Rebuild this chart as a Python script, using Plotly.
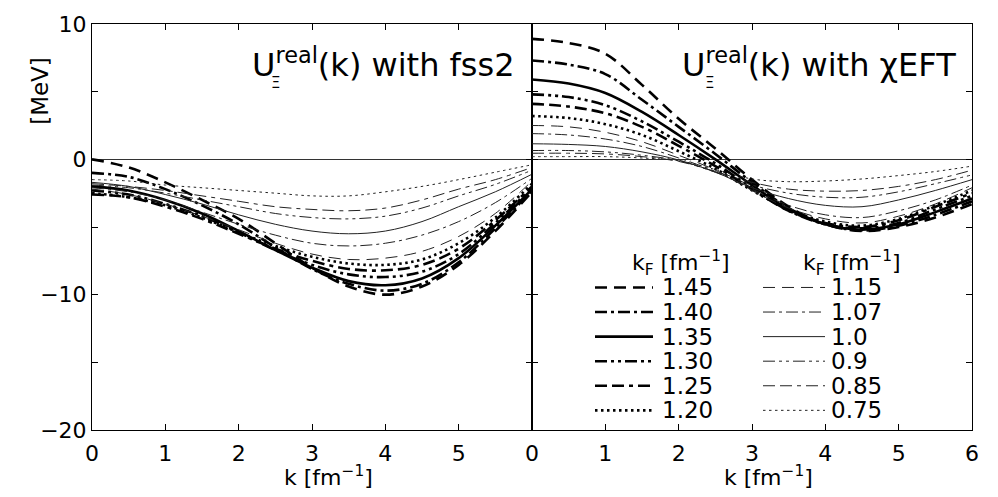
import plotly.graph_objects as go

# ---------------- data ----------------
k = [0.0, 0.5, 1.0, 1.5, 2.0, 2.5, 3.0, 3.5, 4.0, 4.5, 5.0, 5.5, 6.0]
kF_labels = ["1.45", "1.40", "1.35", "1.30", "1.25", "1.20",
             "1.15", "1.07", "1.0", "0.9", "0.85", "0.75"]

U_fss2 = {
    "1.45": [0.0, -0.6, -1.7, -3.0, -4.4, -6.2, -8.0, -9.4, -10.0, -9.4, -7.8, -5.3, -2.4],
    "1.40": [-1.0, -1.3, -2.2, -3.4, -4.8, -6.5, -8.1, -9.2, -9.7, -9.2, -7.6, -5.1, -2.3],
    "1.35": [-2.0, -2.3, -3.0, -4.0, -5.3, -6.7, -8.0, -9.0, -9.3, -8.8, -7.3, -4.9, -2.2],
    "1.30": [-2.3, -2.6, -3.3, -4.2, -5.4, -6.7, -7.8, -8.5, -8.7, -8.3, -7.0, -4.7, -2.1],
    "1.25": [-2.6, -2.8, -3.5, -4.4, -5.5, -6.6, -7.5, -8.1, -8.2, -7.8, -6.6, -4.5, -2.0],
    "1.20": [-2.5, -2.8, -3.4, -4.3, -5.4, -6.4, -7.2, -7.7, -7.8, -7.4, -6.2, -4.3, -1.8],
    "1.15": [-2.2, -2.6, -3.3, -4.2, -5.2, -6.2, -7.0, -7.4, -7.3, -6.8, -5.7, -4.0, -1.6],
    "1.07": [-2.1, -2.4, -3.0, -3.9, -4.8, -5.6, -6.2, -6.4, -6.2, -5.6, -4.6, -3.2, -1.4],
    "1.0":  [-1.7, -2.0, -2.6, -3.3, -4.1, -4.8, -5.3, -5.5, -5.3, -4.6, -3.5, -2.4, -1.1],
    "0.9":  [-1.9, -2.1, -2.5, -3.0, -3.5, -4.0, -4.3, -4.4, -4.2, -3.6, -2.7, -1.85, -0.8],
    "0.85": [-1.8, -2.0, -2.3, -2.7, -3.1, -3.5, -3.7, -3.8, -3.6, -3.0, -2.2, -1.5, -0.6],
    "0.75": [-1.5, -1.6, -1.9, -2.1, -2.3, -2.5, -2.7, -2.7, -2.4, -2.0, -1.5, -0.95, -0.4],
}

U_chiEFT = {
    "1.45": [8.9, 8.6, 7.8, 5.5, 3.0, 0.8, -1.5, -3.5, -4.8, -5.3, -5.0, -4.3, -3.3],
    "1.40": [7.3, 7.0, 6.3, 4.4, 2.4, 0.4, -1.7, -3.6, -4.8, -5.25, -4.9, -4.1, -3.1],
    "1.35": [5.9, 5.6, 4.9, 3.5, 1.8, 0.0, -1.9, -3.7, -4.8, -5.2, -4.8, -3.9, -2.9],
    "1.30": [4.8, 4.6, 4.0, 2.8, 1.3, -0.3, -2.1, -3.8, -4.8, -5.1, -4.7, -3.7, -2.7],
    "1.25": [4.1, 3.9, 3.4, 2.4, 1.0, -0.5, -2.2, -3.8, -4.7, -5.0, -4.5, -3.5, -2.5],
    "1.20": [3.2, 3.05, 2.6, 1.8, 0.6, -0.7, -2.3, -3.7, -4.6, -4.9, -4.4, -3.4, -2.3],
    "1.15": [2.5, 2.4, 2.0, 1.3, 0.3, -0.8, -2.3, -3.6, -4.4, -4.7, -4.2, -3.3, -2.1],
    "1.07": [1.9, 1.8, 1.5, 0.95, 0.1, -0.9, -2.2, -3.4, -4.1, -4.3, -3.8, -3.0, -1.9],
    "1.0":  [1.15, 1.1, 0.95, 0.55, -0.05, -0.95, -2.1, -2.9, -3.4, -3.5, -3.0, -2.3, -1.5],
    "0.9":  [0.65, 0.65, 0.55, 0.3, -0.1, -0.95, -1.9, -2.5, -2.8, -2.8, -2.4, -1.8, -1.15],
    "0.85": [0.45, 0.45, 0.4, 0.2, -0.15, -0.9, -1.7, -2.2, -2.35, -2.3, -2.0, -1.5, -0.8],
    "0.75": [0.2, 0.2, 0.2, 0.1, -0.1, -0.75, -1.45, -1.65, -1.6, -1.45, -1.2, -0.9, -0.5],
}

x_ticks = [0, 1, 2, 3, 4, 5, 6]
x_ticktext_left = ["0", "1", "2", "3", "4", "5", ""]
x_ticktext_right = ["0", "1", "2", "3", "4", "5", "6"]
y_ticks = [-20, -15, -10, -5, 0, 5, 10]
y_ticktext = ["\u221220", "", "\u221210", "", "0", "", "10"]

# ---------------- styles ----------------
dash_patterns = ["12px,7px", "12px,4px,3px,4px", "solid",
                 "12px,4px,3px,4px,3px,4px", "12px,5px,12px,5px,4px,5px", "2.5px,3.5px"]
styles = {}
for i, lab in enumerate(kF_labels):
    thick = i < 6
    styles[lab] = dict(dash=dash_patterns[i % 6],
                       width=2.6 if thick else 1.0,
                       color="black" if thick else "#222222")

FONT = "DejaVu Sans"
W, H = 998, 497
ML, MR, MT, MB = 92, 26, 17, 67
PW, PH = W - ML - MR, H - MT - MB


def px(xp):
    return (xp - ML) / PW


def py(yp):
    return (H - MB - yp) / PH


fig = go.Figure()
for lab in kF_labels:
    st = styles[lab]
    fig.add_trace(go.Scatter(x=k, y=U_fss2[lab], mode="lines", line_shape="spline",
                             line=dict(color=st["color"], width=st["width"], dash=st["dash"]),
                             xaxis="x", yaxis="y", showlegend=False, name=lab))
    fig.add_trace(go.Scatter(x=k, y=U_chiEFT[lab], mode="lines", line_shape="spline",
                             line=dict(color=st["color"], width=st["width"], dash=st["dash"]),
                             xaxis="x2", yaxis="y2", showlegend=False, name=lab))

axis_common = dict(showline=True, linecolor="black", linewidth=1, mirror="ticks",
                   ticks="inside", ticklen=6, tickcolor="black", showgrid=False,
                   tickfont=dict(family=FONT, size=22, color="black"))

fig.update_layout(
    width=W, height=H, margin=dict(l=ML, r=MR, t=MT, b=MB),
    paper_bgcolor="white", plot_bgcolor="white",
    xaxis=dict(domain=[0, 0.5], range=[0, 6], tickvals=x_ticks, ticktext=x_ticktext_left,
               zeroline=False, anchor="y", ticklabelstandoff=4, **axis_common),
    xaxis2=dict(domain=[0.5, 1], range=[0, 6], tickvals=x_ticks, ticktext=x_ticktext_right,
                zeroline=False, anchor="y2", ticklabelstandoff=4, **axis_common),
    yaxis=dict(range=[-20, 10], tickvals=y_ticks, ticktext=y_ticktext, anchor="x",
               zeroline=True, zerolinecolor="#333333", zerolinewidth=1, **axis_common),
    yaxis2=dict(range=[-20, 10], tickvals=y_ticks, ticktext=y_ticktext, anchor="x2",
                showticklabels=False,
                zeroline=True, zerolinecolor="#333333", zerolinewidth=1, **axis_common),
)

ann = []
# panel titles
ann.append(dict(text="U<sup>real</sup>(k) with fss2", x=px(517), y=py(57), xref="paper", yref="paper",
                xanchor="right", yanchor="middle", showarrow=False,
                font=dict(family=FONT, size=32, color="black")))
ann.append(dict(text="U<sup>real</sup>(k) with \u03c7EFT", x=px(958), y=py(57), xref="paper", yref="paper",
                xanchor="right", yanchor="middle", showarrow=False,
                font=dict(family=FONT, size=32, color="black")))
ann.append(dict(text="\u039e", x=px(275), y=py(77), xref="paper", yref="paper",
                xanchor="center", yanchor="middle", showarrow=False,
                font=dict(family=FONT, size=15, color="black")))
ann.append(dict(text="\u039e", x=px(709), y=py(77), xref="paper", yref="paper",
                xanchor="center", yanchor="middle", showarrow=False,
                font=dict(family=FONT, size=15, color="black")))
# axis titles
for xc in (328, 768):
    ann.append(dict(text="k [fm<sup>\u22121</sup>]", x=px(xc), y=py(477), xref="paper", yref="paper",
                    xanchor="center", yanchor="middle", showarrow=False,
                    font=dict(family=FONT, size=22, color="black")))
ann.append(dict(text="[MeV]", x=px(40), y=py(85), xref="paper", yref="paper", textangle=-90,
                xanchor="center", yanchor="middle", showarrow=False,
                font=dict(family=FONT, size=23, color="black")))
ann.append(dict(text="(a)", x=px(532), y=py(509), xref="paper", yref="paper",
                xanchor="center", yanchor="middle", showarrow=False,
                font=dict(family=FONT, size=22, color="black")))

# manual two-column legend
shapes = []
row_y = [285, 310, 335, 360, 385, 410]
cols = [(595, 653, 660, 681), (763, 825, 829, 852)]
for c, (x0, x1, xt, xh) in enumerate(cols):
    ann.append(dict(text="k<sub>F</sub> [fm<sup>\u22121</sup>]", x=px(xh), y=py(260), xref="paper",
                    yref="paper", xanchor="center", yanchor="middle", showarrow=False,
                    font=dict(family=FONT, size=22, color="black")))
    for r in range(6):
        lab = kF_labels[c * 6 + r]
        st = styles[lab]
        shapes.append(dict(type="line", xref="paper", yref="paper", x0=px(x0), x1=px(x1),
                           y0=py(row_y[r]), y1=py(row_y[r]),
                           line=dict(color=st["color"], width=st["width"], dash=st["dash"])))
        ann.append(dict(text=lab, x=px(xt), y=py(row_y[r]), xref="paper", yref="paper",
                        xanchor="left", yanchor="middle", showarrow=False,
                        font=dict(family=FONT, size=23, color="black")))

fig.update_layout(annotations=ann, shapes=shapes)
fig.write_html("out.html")
